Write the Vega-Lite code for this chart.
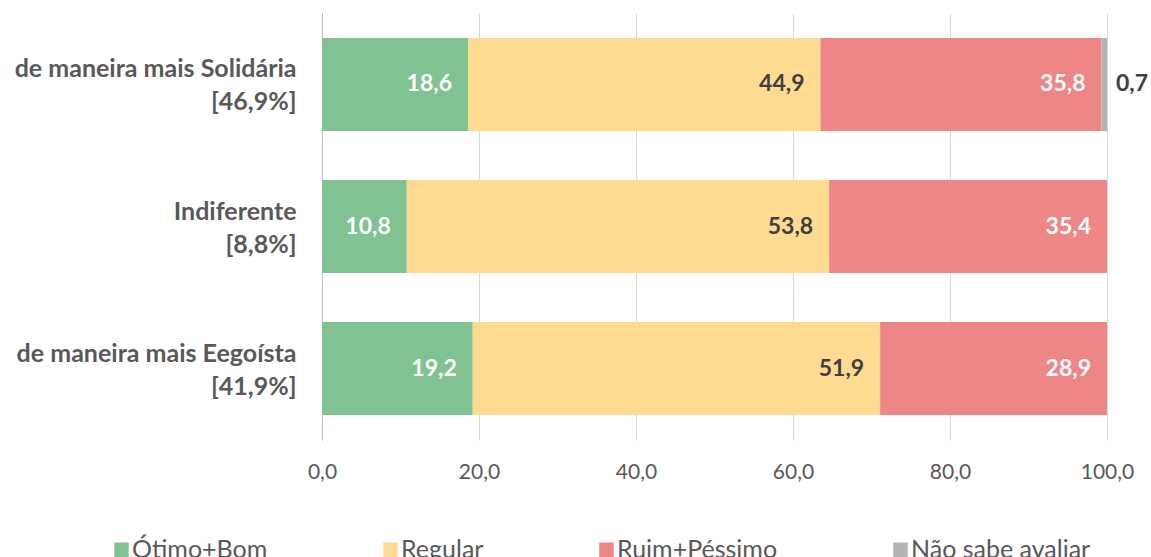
{
  "$schema": "https://vega.github.io/schema/vega-lite/v6.json",
  "width": 785,
  "height": 427,
  "autosize": {"type": "none"},
  "padding": {"left": 322, "top": 13, "right": 44, "bottom": 117},
  "background": "white",
  "config": {
    "view": {"stroke": null},
    "font": "Lato",
    "locale": {"number": {"decimal": ",", "thousands": ".", "grouping": [3], "currency": ["R$", ""]}}
  },
  "data": {
    "values": [
      {"cat": "de maneira mais Solidária|[46,9%]", "resp": "Ótimo+Bom", "ord": 1, "value": 18.6},
      {"cat": "de maneira mais Solidária|[46,9%]", "resp": "Regular", "ord": 2, "value": 44.9},
      {"cat": "de maneira mais Solidária|[46,9%]", "resp": "Ruim+Péssimo", "ord": 3, "value": 35.8},
      {"cat": "de maneira mais Solidária|[46,9%]", "resp": "Não sabe avaliar", "ord": 4, "value": 0.7},
      {"cat": "Indiferente|[8,8%]", "resp": "Ótimo+Bom", "ord": 1, "value": 10.8},
      {"cat": "Indiferente|[8,8%]", "resp": "Regular", "ord": 2, "value": 53.8},
      {"cat": "Indiferente|[8,8%]", "resp": "Ruim+Péssimo", "ord": 3, "value": 35.4},
      {"cat": "de maneira mais Eegoísta|[41,9%]", "resp": "Ótimo+Bom", "ord": 1, "value": 19.2},
      {"cat": "de maneira mais Eegoísta|[41,9%]", "resp": "Regular", "ord": 2, "value": 51.9},
      {"cat": "de maneira mais Eegoísta|[41,9%]", "resp": "Ruim+Péssimo", "ord": 3, "value": 28.9}
    ]
  },
  "transform": [
    {"stack": "value", "groupby": ["cat"], "sort": [{"field": "ord", "order": "ascending"}], "as": ["v0", "v1"]}
  ],
  "encoding": {
    "y": {
      "field": "cat",
      "type": "nominal",
      "sort": null,
      "scale": {"paddingInner": 0.345, "paddingOuter": 0.176},
      "axis": {
        "title": null,
        "domain": true,
        "domainColor": "#bfbfbf",
        "domainWidth": 1,
        "ticks": false,
        "labelExpr": "split(datum.label, '|')",
        "labelFont": "Lato",
        "labelFontSize": 25,
        "labelFontWeight": "bold",
        "labelColor": "#595959",
        "labelPadding": 26,
        "labelLineHeight": 33,
        "labelOffset": -15,
        "labelLimit": 0,
        "labelAlign": "right"
      }
    }
  },
  "layer": [
    {
      "mark": {"type": "bar", "opacity": 1},
      "encoding": {
        "x": {
          "field": "v0",
          "type": "quantitative",
          "scale": {"domain": [0, 100], "nice": false},
          "axis": {
            "title": null,
            "values": [0, 20, 40, 60, 80, 100],
            "format": ".1f",
            "grid": true,
            "gridColor": "#d9d9d9",
            "gridWidth": 1,
            "domain": false,
            "ticks": false,
            "labelFont": "Lato",
            "labelFontSize": 21,
            "labelColor": "#595959",
            "labelPadding": 21,
            "labelFlush": false
          }
        },
        "x2": {"field": "v1"},
        "color": {
          "field": "resp",
          "type": "nominal",
          "scale": {
            "domain": ["Ótimo+Bom", "Regular", "Ruim+Péssimo", "Não sabe avaliar"],
            "range": ["#80c292", "#ffdb91", "#ee8686", "#b4b4b4"]
          },
          "legend": {
            "orient": "none",
            "legendX": -213,
            "legendY": 524,
            "direction": "horizontal",
            "title": null,
            "symbolType": "square",
            "symbolSize": 210,
            "symbolStrokeWidth": 0,
            "symbolOpacity": 1,
            "labelFont": "Lato",
            "labelFontSize": 25,
            "labelColor": "#595959",
            "labelOffset": -2,
            "labelLimit": 0,
            "columnPadding": 110
          }
        }
      }
    },
    {
      "transform": [{"filter": "datum.ord < 4"}],
      "mark": {"type": "text", "align": "right", "baseline": "middle", "dx": -16, "fontWeight": "bold", "fontSize": 23, "font": "Lato"},
      "encoding": {
        "x": {"field": "v1", "type": "quantitative"},
        "text": {"field": "value", "type": "quantitative", "format": ".1f"},
        "color": {"condition": {"test": "datum.ord == 2", "value": "#404040"}, "value": "#ffffff"}
      }
    },
    {
      "transform": [{"filter": "datum.ord == 4"}],
      "mark": {"type": "text", "align": "left", "baseline": "middle", "dx": 9, "fontWeight": "bold", "fontSize": 23, "font": "Lato", "color": "#404040"},
      "encoding": {
        "x": {"field": "v1", "type": "quantitative"},
        "text": {"field": "value", "type": "quantitative", "format": ".1f"}
      }
    }
  ]
}
